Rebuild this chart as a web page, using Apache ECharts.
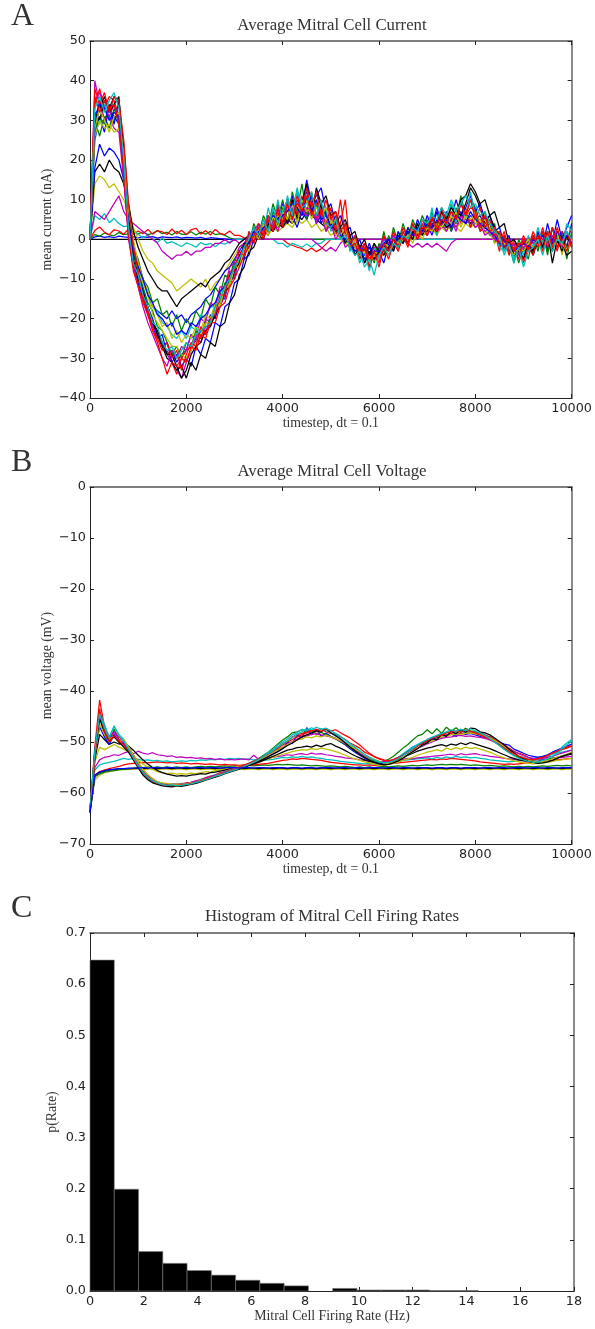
<!DOCTYPE html>
<html><head><meta charset="utf-8">
<script src="https://cdn.jsdelivr.net/npm/echarts@6/dist/echarts.min.js"></script>
<style>html,body{margin:0;padding:0;background:#fff}#c{width:595px;height:1329px}</style>
</head><body><div id="c"></div>
<script>
// ---------- shared time grid (timestep) ----------
const T = [0,100,200,300,400,500,600,700,800,900,
1000,1100,1200,1300,1400,1500,1600,1700,1800,1900,
2000,2100,2200,2300,2400,2500,2600,2700,2800,2900,
3000,3100,3200,3300,3400,3500,3600,3700,3800,3900,
4000,4100,4200,4300,4400,4500,4600,4700,4800,4900,
5000,5100,5200,5300,5400,5500,5600,5700,5800,5900,
6000,6100,6200,6300,6400,6500,6600,6700,6800,6900,
7000,7100,7200,7300,7400,7500,7600,7700,7800,7900,
8000,8100,8200,8300,8400,8500,8600,8700,8800,8900,
9000,9100,9200,9300,9400,9500,9600,9700,9800,9900,
10000];

// ---------- Panel A: mean current (nA) ----------
const A_kw = [0,0,0,0,0,0,0,0,0,0, 0,0,0,0,0,0,0,0,0,0, 0,0,0,0,0,0,0,0,0,0, 0,0,0,0,0,0,0,0,0,0, 0,0,0,0,0,0,0,0,0,0,
0,0,0,0,0,0,0,0,0,0, 0,0,0,0,0,0,0,0,0,0, 0,0,0,0,0,0,0,0,0,0, 0,0,0,0,0,0,0,0,0,0, 0,0,0,0,0,0,0,0,0,0, 0];
const A_bw = [0,0.6,0.8,0.5,0.7,0.4,0.8,0.6,0.5,0.7,
0.4,0.6,0.5,0.7,0.3,0.6,0.5,0.4,0.6,0.3,
0.5,0.4,0.3,0.5,0.2,0.4,0.3,0.2,0.1,0,
0,0,0,0,0,0,0,0,0,0, 0,0,0,0,0,0,0,0,0,0, 0,0,0,0,0,0,0,0,0,0, 0,0,0,0,0,0,0,0,0,0,
0,0,0,0,0,0,0,0,0,0, 0,0,0,0,0,0,0,0,0,0, 0,0,0,0,0,0,0,0,0,0, 0];
const A_gw = [0,1.2,0.8,1.6,1.1,0.9,1.7,1.2,1.4,2.1,
1.3,1.9,1.2,1.5,2.2,1.4,1.8,1.1,2,1.3,
1.2,1.9,1.1,1.8,1.3,2,1.2,1.4,1,0.4,
0,0,0,0,0,0,0,0,0,0, 0,0,0,0,0,0,0,0,0,0, 0,0,0,0,0,0,0,0,0,0, 0,0,0,0,0,0,0,0,0,0,
0,0,0,0,0,0,0,0,0,0, 0,0,0,0,0,0,0,0,0,0, 0,0,0,0,0,0,0,0,0,0, 0];
const A_rw = [0,2.2,3.1,1.8,1.2,2.4,2.1,1.3,2.6,1.2,
2.1,1.4,2.5,1.3,2.2,1.9,1.2,2.6,1.4,2.3,
1.2,2.4,2.8,1.3,2.2,1.1,2.5,1.5,1.2,2.1,
1,1,0.4,0,0,0,0,0,0,0,
0,-1,-1.5,-2,-2.3,-3,-2.2,-3.1,-2.4,-1.2,
0,0,0,0,0,0,0,0,0,0, 0,0,0,0,0,0,0,0,0,0, 0,0,0,0,0,0,0,0,0,0, 0,0,0,0,0,0,0,0,0,0, 0,0,0,0,0,0,0,0,0,0, 0];
const A_cw = [0,6,5,6.5,4.2,5.3,4,3.2,3.4,2.3,
1.2,0.4,1,0.2,-0.8,0.3,-1,-0.6,-1.2,-1.8,
-0.9,-1.3,-2,-0.8,-1.4,-1,-1.9,-0.9,-1.2,-0.6,
0,0,0,0,0,0,0,0,0,-1,
-1,-2,-1,-1.5,-2,-1.2,-2,-1,-1,0,
0,0,0,0,0,0,0,0,0,0, 0,0,0,0,0,0,0,0,0,0, 0,0,0,0,0,0,0,0,0,0, 0,0,0,0,0,0,0,0,0,0, 0,0,0,0,0,0,0,0,0,0, 0];
const A_mm = [0,7,6,5,7,9,11,7,5,4,
3,2,1,0,-1,-3,-4,-5,-4,-4,
-3,-4,-3,-3,-2,-2,-1,-1,0,-1,
0,-1,0,0,0,0,0,0,0,0,
0,0,0,0,0,0,0,-1,-2,-3,
-2,-3,-1,0,0,0,0,0,0,0,
0,0,0,0,0,0,-1,-2,-1,-2,
-1,-2,-1,-2,-3,-1,0,0,0,0,
0,0,0,0,0,0,0,0,0,0, 0,0,0,0,0,0,0,0,0,0, 0];
const A_ym = [0,14,16,15,13,14,12,10,7,3,
0,-3,-5,-6,-8,-9,-10,-11,-13,-12,
-11,-10,-11,-12,-10,-13,-11,-10,-8,-6,
-4,-2,-1,0,1,0,2,1,3,2,
3,4,3,5,4,5,3,4,2,3,
1,2,0,-1,-2,-1,-3,-2,-4,-3,
-2,-3,-1,0,-1,1,0,1,2,1,
2,3,1,3,2,4,3,2,4,3,
4,3,2,1,0,-1,-2,-3,-2,-1,
-2,-1,0,-1,0,1,-1,0,1,0,
0];
const A_km = [0,17,19,17,20,18,17,14,9,2,
-2,-5,-8,-10,-12,-13,-13,-15,-17,-15,
-14,-13,-12,-11,-12,-10,-9,-8,-6,-5,
-3,-1,0,1,0,2,1,3,2,4,
3,5,4,6,5,7,6,5,4,3,
3,2,1,0,-1,-2,-2,-3,-2,-3,
-2,-1,-1,0,0,1,0,2,1,2,
3,2,4,3,4,5,4,6,5,4,
6,4,3,2,1,0,-1,-2,-1,-2,
-1,0,-1,0,1,0,-1,0,1,0,
0];
const A_bm = [0,18,24,21,23,22,20,15,6,-2,
-6,-10,-14,-17,-18,-19,-20,-18,-20,-19,
-21,-19,-18,-17,-15,-14,-12,-10,-8,-7,
-5,-3,-1,0,1,2,3,2,4,3,
5,4,6,3,7,5,8,4,6,3,
4,2,1,0,-1,-2,-3,-2,-4,-3,
-2,-1,-2,0,-1,1,0,2,1,3,
2,4,3,5,4,3,5,4,6,5,
4,5,3,2,1,0,-2,-1,-3,-2,
-1,-2,0,-1,1,-2,0,1,-1,0,
1];
const A_b1 = [0,29,35,30,33,31,29,16,1,-7,
-11,-15,-19,-22,-25,-24,-29,-28,-31,-29,
-28,-24,-26,-23,-24,-19,-20,-15,-15,-9,
-10,-4,-5,0,0,3,4,3,7,5,
9,7,11,6,9,12,8,9,4,7,
3,5,1,2,-1,0,-2,-4,-2,-5,
-2,-3,0,-2,1,-1,2,0,3,3,
4,1,5,3,6,2,5,7,4,6,
5,6,3,5,3,-1,0,-3,-1,-4,
0,-2,1,-1,2,-3,3,-1,2,-2,
4];
const A_g1 = [0,27,31,29,34,30,32,19,4,-4,
-7,-12,-16,-18,-22,-23,-26,-29,-27,-30,
-26,-27,-23,-25,-20,-21,-16,-16,-11,-11,
-6,-6,-1,-1,3,1,5,2,7,4,
8,5,9,6,10,5,11,6,7,4,
5,1,3,-1,0,-3,-2,-5,-3,-6,
-1,-4,1,-2,2,-1,3,0,4,1,
5,2,7,3,6,2,8,4,7,3,
6,2,3,4,-1,2,-3,-1,-6,0,
-3,0,-4,2,-1,1,-2,0,1,-2,
-1];
const A_g2 = [0,30,26,31,28,33,29,20,6,-2,
-5,-10,-12,-16,-15,-19,-18,-22,-19,-23,
-20,-22,-18,-20,-15,-17,-12,-14,-9,-10,
-5,-6,-1,-2,4,1,6,3,9,5,
10,4,12,7,14,6,11,9,5,8,
3,6,0,4,-3,1,-5,-2,-7,-1,
-4,2,-3,3,-1,4,0,5,2,6,
3,7,2,8,4,9,5,11,6,10,
8,4,7,2,4,-2,1,-4,-1,-6,
-2,-5,1,-3,2,-4,3,-2,1,-5,
2];
const A_r1 = [0,34,38,33,36,35,31,21,2,-6,
-10,-14,-18,-21,-24,-27,-28,-31,-34,-30,
-28,-27,-24,-25,-21,-21,-17,-16,-12,-11,
-7,-6,-2,1,-1,3,2,6,4,9,
5,8,10,6,11,7,12,5,9,3,
6,1,4,10,-2,0,-5,-1,-6,-2,
-4,1,-3,2,-2,3,0,4,1,5,
2,6,1,7,3,5,6,4,8,3,
7,2,5,1,2,-3,1,-4,0,-3,
1,-2,2,-1,3,-2,1,-3,2,0,
3];
const A_b3 = [0,25,31,27,34,29,35,23,7,-1,
-8,-13,-17,-20,-24,-27,-26,-31,-29,-32,
-30,-32,-27,-29,-25,-26,-21,-22,-17,-16,
-11,-10,-5,-4,0,2,1,5,3,8,
6,10,7,12,8,15,9,11,13,7,
9,4,6,2,3,-2,0,-4,-1,-5,
-3,-6,-1,-3,2,-1,3,1,5,2,
6,3,8,4,7,5,10,6,8,11,
7,9,5,6,2,3,-1,1,-4,-2,
-5,0,-3,2,-2,4,-1,5,0,3,
6];
const A_c1 = [0,31,29,34,30,36,35,22,5,-3,
-7,-11,-13,-17,-18,-21,-22,-24,-25,-23,
-25,-22,-23,-19,-20,-17,-17,-13,-13,-9,
-9,-4,-4,2,0,4,1,8,3,10,
4,11,6,12,9,13,7,10,5,8,
2,4,0,3,-3,-1,-6,-3,-8,-2,
-5,0,-2,1,-3,2,0,3,1,4,
2,8,1,6,3,9,4,10,5,12,
6,3,5,1,2,-2,-3,0,-5,-1,
-4,1,-2,3,-1,2,-3,1,-2,4,
2];
const A_m1 = [0,40,34,30,31,28,27,15,2,-6,
-9,-14,-18,-22,-24,-27,-29,-31,-33,-35,
-31,-28,-25,-26,-22,-22,-18,-17,-14,-11,
-9,-4,-3,-2,1,0,3,1,5,2,
6,4,8,5,7,6,9,4,8,2,
5,3,1,2,-1,0,-3,-1,-4,-2,
-2,0,-1,1,-1,1,0,2,0,3,
1,4,2,3,3,5,2,6,4,5,
3,4,2,3,0,1,-2,0,-3,-1,
-2,0,-1,1,0,-1,1,0,-1,1,
0];
const A_k2 = [0,32,30,35,33,36,34,24,8,-3,
-9,-14,-17,-21,-24,-27,-30,-31,-33,-32,
-35,-31,-33,-29,-30,-26,-27,-22,-21,-16,
-14,-9,-7,-3,-2,1,0,4,2,6,
3,8,5,9,7,10,6,13,9,11,
6,7,3,5,1,2,-2,0,-4,-1,
-3,-2,0,-3,1,-1,2,0,4,1,
3,5,4,7,5,8,6,10,11,14,
12,9,10,6,7,3,4,-1,0,-2,
-3,-1,-4,0,-2,1,-3,2,-1,-4,
-3];
const A_y1 = [0,26,30,28,29,27,28,22,8,-2,
-8,-11,-14,-19,-21,-23,-25,-27,-27,-29,
-30,-28,-26,-24,-21,-21,-18,-16,-13,-11,
-8,-5,-4,1,0,3,2,5,3,6,
5,8,4,9,6,10,5,8,6,3,
5,1,2,-1,0,-2,-4,-3,-6,-4,
-3,-1,-2,0,-1,1,0,2,1,3,
2,4,3,5,2,6,3,4,6,7,
4,5,1,3,-1,0,-2,-3,-1,-4,
-2,0,-3,1,-2,0,-1,2,-4,1,
-1];
const A_m2 = [0,35,37,33,31,34,30,16,0,-7,
-12,-17,-21,-24,-27,-30,-32,-28,-30,-27,
-28,-24,-25,-20,-21,-16,-17,-12,-12,-7,
-6,-2,-1,1,2,4,2,6,3,8,
4,9,5,10,6,8,7,5,6,2,
4,0,2,-2,-1,-4,-2,-6,-3,-5,
-4,-1,-3,0,-2,1,-1,2,0,2,
1,3,2,4,2,5,3,6,4,5,
3,4,1,2,0,-1,-2,-3,-1,-4,
-2,-1,-3,0,-2,1,-1,0,-2,1,
-1];
const A_k1 = [0,28,33,36,32,34,36,20,6,-5,
-10,-13,-18,-21,-23,-26,-29,-29,-32,-35,
-33,-29,-27,-26,-23,-22,-19,-17,-13,-12,
-8,-6,-1,-1,2,0,4,2,6,3,
7,4,10,5,9,14,7,12,8,6,
4,2,3,-1,1,-4,-2,-6,-3,-5,
-3,-4,-2,0,-2,1,-1,2,1,3,
2,4,2,5,3,4,7,6,9,13,
11,8,4,6,3,1,-2,0,-4,-3,
-5,-1,-3,1,-2,2,-6,0,-3,1,
-2];
const A_y2 = [0,28,33,30,27,31,32,21,7,0,
-6,-10,-13,-17,-19,-22,-21,-25,-23,-26,
-24,-25,-22,-23,-19,-20,-16,-17,-12,-12,
-7,-7,-2,-3,2,0,4,1,6,3,
7,5,9,4,10,7,8,9,6,8,
4,5,1,3,-2,0,-4,-3,-6,-4,
-5,-2,-4,-1,-2,0,1,-1,2,0,
3,2,4,3,5,4,7,3,6,5,
7,4,5,2,3,0,-1,-2,-4,-2,
-3,-1,-2,0,-3,1,-2,0,-1,-3,
0];
const A_b2 = [0,31,34,33,30,32,31,19,4,-3,
-7,-10,-14,-16,-19,-20,-22,-21,-24,-23,
-24,-21,-22,-20,-19,-17,-16,-13,-12,-9,
-7,-4,-2,-1,2,1,3,4,6,5,
6,7,9,8,6,11,7,10,5,6,
3,4,1,0,-1,-3,-2,-5,-4,-3,
-3,-1,0,-2,1,0,2,1,3,2,
4,3,7,4,5,3,6,5,4,7,
5,4,3,2,1,-1,-2,-1,-3,-2,
-1,-2,0,-1,1,0,-1,2,0,1,
-1];
const A_r2 = [0,36,32,35,33,34,29,17,1,-8,
-12,-16,-19,-23,-25,-28,-26,-30,-28,-33,
-29,-26,-27,-22,-24,-20,-19,-14,-14,-8,
-8,-3,-4,2,-1,4,1,6,2,8,
4,10,5,9,8,11,6,9,7,4,
8,2,10,1,-2,-1,-4,-2,-7,-3,
-6,-1,-3,0,-2,2,-1,4,0,3,
3,6,2,5,4,7,5,9,6,8,
7,3,6,2,3,-1,2,-3,-2,-5,
0,-3,1,-2,2,-1,3,-2,0,-3,
1];
const A_r3 = [0,38,34,37,32,36,35,25,9,-2,
-8,-15,-18,-23,-26,-30,-34,-31,-32,-30,
-31,-27,-28,-24,-25,-21,-21,-17,-16,-12,
-10,-7,-4,-2,1,3,0,5,2,7,
3,9,6,11,7,13,8,12,6,10,
5,7,2,4,-1,1,-3,-1,-5,-3,
-7,-2,-5,-1,-3,1,-2,3,0,4,
1,5,3,8,4,7,5,9,6,10,
5,8,3,5,1,2,-2,0,-3,-1,
-6,-2,-4,1,-3,2,-2,3,-1,2,
-2];
const A_c2 = [0,33,36,32,35,37,33,20,3,-6,
-9,-14,-17,-21,-22,-26,-28,-27,-30,-28,
-26,-27,-24,-23,-22,-21,-17,-15,-12,-10,
-7,-5,-2,0,3,1,5,2,8,4,
7,10,6,13,8,9,12,6,10,4,
3,5,0,1,-2,-4,-3,-7,-5,-9,
-4,-2,-4,-1,-2,1,0,3,2,5,
4,6,5,8,6,10,7,9,11,8,
9,6,7,4,2,1,-4,-1,-6,-2,
-7,-3,-2,0,-4,1,-3,0,-1,2,
0];

// ---------- Panel B: mean voltage (mV) ----------
const B_yw = [-63.5,-57.5,-56.5,-56,-55.8,-55.6,-55.5,-55.4,-55.4,-55.3,
-55.3,-55.4,-55.3,-55.3,-55.4,-55.3,-55.3,-55.4,-55.3,-55.3,
-55.4,-55.3,-55.3,-55.4,-55.3,-55.3,-55.4,-55.3,-55.3,-55.4,
-55.3,-55.3,-55.4,-55.3,-55.3,-55.4,-55.3,-55.3,-55.4,-55.3,
-55.3,-55.4,-55.3,-55.3,-55.4,-55.3,-55.3,-55.4,-55.3,-55.3,
-55.4,-55.3,-55.3,-55.4,-55.3,-55.3,-55.4,-55.3,-55.3,-55.4,
-55.3,-55.3,-55.4,-55.3,-55.3,-55.4,-55.3,-55.3,-55.4,-55.3,
-55.3,-55.4,-55.3,-55.3,-55.4,-55.3,-55.3,-55.4,-55.3,-55.3,
-55.4,-55.3,-55.3,-55.4,-55.3,-55.3,-55.4,-55.3,-55.3,-55.4,
-55.3,-55.3,-55.4,-55.3,-55.3,-55.4,-55.3,-55.3,-55.4,-55.3,
-55.3];
const B_kw = [-63.9,-56.8,-56,-55.7,-55.5,-55.4,-55.3,-55.3,-55.2,-55.2,
-55.1,-55.2,-55.1,-55.1,-55.2,-55.1,-55.1,-55.2,-55.1,-55.1,
-55.2,-55.1,-55.1,-55.2,-55.1,-55.1,-55.2,-55.1,-55.1,-55.2,
-55.1,-55.1,-55.2,-55.1,-55.1,-55.2,-55.1,-55.1,-55.2,-55.1,
-55.1,-55.2,-55.1,-55.1,-55.2,-55.1,-55.1,-55.2,-55.1,-55.1,
-55.2,-55.1,-55.1,-55.2,-55.1,-55.1,-55.2,-55.1,-55.1,-55.2,
-55.1,-55.1,-55.2,-55.1,-55.1,-55.2,-55.1,-55.1,-55.2,-55.1,
-55.1,-55.2,-55.1,-55.1,-55.2,-55.1,-55.1,-55.2,-55.1,-55.1,
-55.2,-55.1,-55.1,-55.2,-55.1,-55.1,-55.2,-55.1,-55.1,-55.2,
-55.1,-55.1,-55.2,-55.1,-55.1,-55.2,-55.1,-55.1,-55.2,-55.1,
-55.1];
const B_bw = [-63.8,-56.5,-55.9,-55.6,-55.4,-55.3,-55.2,-55.2,-55.1,-55.1,
-55.1,-55,-55.1,-55,-55,-55.1,-55,-55,-55.1,-55,
-55,-55.1,-55,-55,-55.1,-55,-55,-55.1,-55,-55,
-55,-55.1,-55,-55,-55.1,-55,-55,-55.1,-55,-55,
-55,-55.1,-55,-55,-55.1,-55,-55,-55.1,-55,-55,
-55,-55.1,-55,-55,-55.1,-55,-55,-55.1,-55,-55,
-55,-55.1,-55,-55,-55.1,-55,-55,-55.1,-55,-55,
-55,-55.1,-55,-55,-55.1,-55,-55,-55.1,-55,-55,
-55,-55.1,-55,-55,-55.1,-55,-55,-55.1,-55,-55,
-55,-55.1,-55,-55,-55.1,-55,-55,-55.1,-55,-55,
-55];
const B_gw = [-63.5,-56.8,-56.2,-55.9,-55.7,-55.6,-55.4,-55.3,-55.2,-55.1,
-55,-55,-54.9,-55,-54.9,-55,-54.9,-55,-54.9,-55,
-54.9,-55,-54.9,-54.8,-54.9,-54.8,-54.9,-54.8,-54.7,-54.8,
-54.7,-54.8,-54.7,-54.6,-54.7,-54.6,-54.5,-54.6,-54.5,-54.4,
-54.5,-54.4,-54.5,-54.6,-54.5,-54.6,-54.7,-54.6,-54.7,-54.8,
-54.7,-54.8,-54.9,-54.8,-54.9,-55,-54.9,-55,-54.9,-55,
-54.9,-54.8,-54.9,-54.8,-54.7,-54.8,-54.7,-54.6,-54.7,-54.6,
-54.5,-54.6,-54.5,-54.4,-54.5,-54.4,-54.5,-54.4,-54.5,-54.6,
-54.5,-54.6,-54.7,-54.6,-54.7,-54.8,-54.7,-54.8,-54.9,-54.8,
-54.9,-54.8,-54.9,-54.8,-54.7,-54.8,-54.7,-54.6,-54.7,-54.6,
-54.7];
const B_rw = [-63.6,-56.5,-55.8,-55.5,-55.2,-55,-54.8,-54.5,-54.3,-54.2,
-54.1,-54,-54.1,-54,-53.9,-54,-54.1,-54,-54.2,-54.1,
-54.2,-54.3,-54.2,-54.3,-54.4,-54.3,-54.4,-54.5,-54.4,-54.5,
-54.5,-54.6,-54.5,-54.6,-54.5,-54.4,-54.3,-54.2,-54,-53.8,
-53.6,-53.5,-53.3,-53.4,-53.2,-53.3,-53.4,-53.5,-53.6,-53.8,
-54,-54.1,-54.2,-54.3,-54.4,-54.5,-54.5,-54.6,-54.5,-54.6,
-54.5,-54.4,-54.3,-54.2,-54.1,-54,-53.9,-53.8,-53.7,-53.6,
-53.5,-53.4,-53.5,-53.3,-53.4,-53.2,-53.3,-53.4,-53.5,-53.6,
-53.7,-53.9,-54,-54.1,-54.2,-54.3,-54.4,-54.3,-54.4,-54.3,
-54.2,-54.1,-54,-53.9,-53.8,-53.7,-53.6,-53.5,-53.4,-53.3,
-53.2];
const B_cm = [-63.5,-55.5,-54.5,-54.2,-54,-53.8,-53.5,-53.2,-53.4,-53.2,
-53.4,-53.6,-53.5,-53.7,-53.6,-53.8,-53.7,-53.9,-53.8,-53.7,
-53.8,-53.6,-53.7,-53.5,-53.6,-53.4,-53.5,-53.3,-53.4,-53.2,
-53.3,-53.2,-53.4,-53.3,-53.5,-53.4,-53.6,-53.5,-53.4,-53.2,
-53,-53.1,-52.9,-53,-52.8,-53,-52.9,-53.1,-53.2,-53.4,
-53.5,-53.6,-53.8,-53.9,-54,-54.1,-54.2,-54.3,-54.2,-54.3,
-54.2,-54.1,-54,-53.9,-53.8,-53.6,-53.5,-53.4,-53.3,-53.2,
-53.1,-53.3,-53,-53.2,-52.9,-53.1,-52.8,-53,-52.9,-53.1,
-53,-53.2,-53.3,-53.5,-53.6,-53.7,-53.8,-53.9,-53.8,-53.7,
-53.6,-53.4,-53.2,-53,-52.8,-52.6,-52.4,-52.2,-52,-51.8,
-51.6];
const B_mm = [-63.4,-55,-53.5,-53,-52.8,-52.5,-52.6,-52.2,-51.9,-52.3,
-51.8,-52.2,-52.4,-52.1,-52.5,-52.6,-52.8,-52.7,-53,-52.9,
-53.1,-53,-53.2,-53.1,-53.3,-53.2,-53.4,-53.3,-53.5,-53.4,
-53.5,-53.4,-53.3,-53.5,-52.6,-53.4,-53.2,-53.1,-53,-52.8,
-52.7,-52.5,-52.6,-52.4,-52.3,-52.5,-52.2,-52.4,-52.3,-52.5,
-52.6,-52.8,-52.9,-53.1,-53.2,-53.3,-53.5,-53.6,-53.7,-53.8,
-53.9,-54,-53.9,-53.8,-53.6,-53.4,-53.2,-53.3,-53.1,-53,
-52.9,-52.8,-52.7,-52.6,-52.5,-52.4,-52.6,-52.3,-52.5,-52.4,
-52.3,-52.5,-52.6,-52.8,-52.9,-53,-53.2,-53.3,-53.4,-53.5,
-53.6,-53.7,-53.6,-53.5,-53.4,-53.3,-53.2,-53.1,-53,-52.9,
-52.8];
const B_ym = [-63.4,-54,-51,-51.5,-51,-50.5,-51,-51.4,-52,-52.8,
-53.6,-54.3,-54.9,-55.4,-55.8,-56,-56.2,-56.1,-56.3,-56.2,
-56.3,-56.1,-56.2,-56,-55.8,-55.9,-55.6,-55.5,-55.3,-55.1,
-55,-54.8,-54.6,-54.5,-54.2,-53.9,-53.6,-53.3,-53,-52.7,
-52.4,-52.2,-51.9,-51.7,-51.5,-51.6,-51.3,-51.5,-51.2,-51.4,
-51.6,-51.9,-52.2,-52.6,-53,-53.3,-53.6,-53.9,-54.1,-54.3,
-54.5,-54.6,-54.4,-54.2,-53.9,-53.6,-53.3,-53,-52.6,-52.3,
-52,-51.8,-51.5,-51.8,-51.2,-51.5,-51.1,-51.4,-51,-51.3,
-51.1,-51.4,-51.7,-52,-52.4,-52.8,-53.1,-53.4,-53.7,-53.9,
-54.1,-54.2,-54.3,-54.2,-54.1,-54,-53.8,-53.6,-53.5,-53.3,
-53.2];
const B_km = [-63.6,-53.5,-48.5,-49.5,-50.5,-50,-50.4,-50.2,-50.8,-51.6,
-52.6,-53.5,-54.3,-55,-55.6,-56,-56.3,-56.5,-56.7,-56.6,
-56.7,-56.5,-56.4,-56.2,-56.3,-56,-55.9,-55.7,-55.5,-55.3,
-55.2,-55,-54.8,-54.6,-54.3,-54,-53.6,-53.2,-52.8,-52.4,
-52,-51.6,-51.4,-51.1,-51,-50.8,-51,-50.6,-50.9,-50.5,
-50.3,-50.8,-51.2,-51.7,-52.2,-52.7,-53.1,-53.5,-53.8,-54,
-54.1,-54.2,-54,-53.8,-53.4,-53,-52.6,-52.2,-51.8,-51.5,
-51.2,-51,-50.7,-50.5,-50.8,-50.4,-50.6,-50.2,-50.5,-50.1,
-50.4,-50.7,-51,-51.3,-51.7,-52.1,-52.5,-52.9,-53.2,-53.5,
-53.7,-53.8,-53.9,-53.8,-53.6,-53.4,-53.2,-53,-52.8,-52.6,
-52.4];
const B_b1 = [-63,-52.5,-47,-49,-50.5,-48.5,-50,-50.5,-51.8,-53.4,
-55,-56.3,-57.2,-57.8,-58.1,-58.2,-58.4,-58.3,-58.2,-58.4,
-58.1,-58,-57.7,-57.6,-57.2,-57,-56.6,-56.4,-56,-55.8,
-55.4,-55.2,-54.9,-54.5,-54.1,-53.7,-53.3,-52.8,-52.3,-51.8,
-51.2,-50.1,-50.3,-48.6,-49.2,-47.2,-48.6,-47.5,-48.9,-48.3,
-48.9,-49.3,-49.9,-50.6,-51.3,-52,-52.6,-53.2,-53.6,-53.9,
-54.2,-54.3,-54,-53.7,-53.2,-52.5,-51.8,-51,-50.6,-50.4,
-50,-49.6,-49.2,-49,-48.6,-48.4,-48.9,-48.2,-48.5,-48.3,
-48.6,-48.9,-49.2,-49,-49.6,-50,-50.4,-50.6,-51.4,-51.8,
-52.2,-52.6,-52.8,-53,-52.8,-52.5,-52,-51.6,-51.2,-50.8,
-50.4];
const B_g1 = [-63.5,-53,-45,-48.5,-50,-47.5,-49.5,-50,-51.2,-52.8,
-54.4,-55.6,-56.7,-57.4,-57.9,-58.1,-58.4,-58.6,-58.7,-58.5,
-58.4,-58.2,-58,-57.7,-57.4,-57.1,-56.8,-56.4,-56.1,-55.7,
-55.5,-55.2,-54.8,-54.3,-53.8,-53.3,-52.6,-52,-51.2,-50.4,
-49.6,-49,-48.2,-48,-47.6,-48,-47.8,-48.4,-48.1,-48.6,
-49,-49.4,-50,-50.5,-51.1,-51.8,-52.4,-53,-53.4,-53.7,
-54,-53.8,-53.4,-52.8,-52,-51.2,-50.5,-49.6,-48.8,-48.5,
-47.6,-48.4,-47.4,-48.3,-47.1,-47.9,-47.2,-48,-47.3,-47.8,
-48,-48.3,-48.7,-49.3,-50,-50.7,-51.4,-52,-52.6,-53,
-53.4,-53.6,-53.8,-53.9,-53.7,-53.5,-53.2,-53,-52.7,-52.4,
-52.2];
const B_r1 = [-63.5,-51,-41.8,-47,-49.5,-48,-49,-50,-51,-52.5,
-54,-55.5,-56.5,-57.2,-58,-58.4,-58.6,-58.3,-58.5,-58.2,
-58,-57.9,-57.6,-57.4,-57,-56.7,-56.5,-56,-55.8,-55.4,
-55.2,-54.9,-54.5,-54.2,-53.8,-53.2,-52.8,-52.2,-51.6,-51,
-50.3,-49.8,-49,-48.6,-48.3,-48,-47.6,-48,-47.5,-48,
-48.3,-48.5,-49,-49.5,-50.2,-50.7,-51.2,-52,-52.4,-52.9,
-53.2,-53.5,-53.7,-53.4,-53,-52.6,-52,-51.3,-50.8,-50.2,
-49.8,-49.2,-48.9,-48.5,-48.7,-48.3,-48.1,-48.5,-48,-48.2,
-48.4,-48.1,-48.6,-49,-49.5,-50.1,-50.6,-51.2,-51.8,-52.2,
-52.5,-53,-53.3,-53.2,-53,-52.8,-52.2,-52,-51.5,-51.2,
-50.8];
const B_c1 = [-63.8,-52,-44,-46.5,-49,-47,-48.5,-49.5,-51,-53,
-55,-56.2,-57.3,-57.8,-58.2,-58.3,-58.2,-58.5,-58.3,-58.1,
-58.2,-57.9,-57.7,-57.3,-57.1,-56.8,-56.4,-56.2,-55.8,-55.5,
-55.2,-55,-54.6,-54.2,-53.7,-53.3,-52.8,-52,-51.5,-50.6,
-50,-49.4,-48.6,-48.2,-47.5,-47.8,-47.2,-47.6,-47.4,-47.8,
-48.2,-48.6,-49.3,-50,-50.6,-51.2,-51.8,-52.5,-53,-53.4,
-53.8,-54,-53.9,-53.6,-53,-52.3,-51.6,-51,-50.5,-50,
-49.6,-49.1,-48.8,-48.4,-48.2,-47.9,-48.3,-47.8,-48.1,-47.9,
-48.2,-48.5,-48.8,-49.2,-49.8,-50.4,-51,-51.6,-52.2,-52.7,
-53,-53.3,-53.6,-53.4,-53.2,-52.9,-52.4,-52,-51,-50.2,
-49.5];
const B_m1 = [-63.5,-51.5,-45,-47.5,-49,-48,-49.5,-50.2,-51.3,-52.7,
-54.2,-55.5,-56.6,-57.3,-57.8,-58.1,-58.2,-58.3,-58.3,-58.2,
-58.1,-57.9,-57.6,-57.4,-57.1,-56.8,-56.5,-56.2,-55.9,-55.6,
-55.3,-55,-54.7,-54.3,-53.9,-53.5,-53.1,-52.6,-52,-51.5,
-51,-50.4,-49.9,-49.4,-49,-48.8,-48.5,-48.4,-48.6,-48.8,
-49,-49.4,-49.8,-50.4,-50.9,-51.5,-52.1,-52.7,-53.1,-53.5,
-53.8,-53.9,-53.8,-53.5,-53.1,-52.6,-52.1,-51.6,-51.2,-50.8,
-50.4,-50,-49.6,-49.3,-49.1,-49,-48.8,-48.7,-48.9,-48.8,
-49,-49.1,-49.3,-49.6,-50,-50.4,-50.9,-51.4,-51.9,-52.3,
-52.7,-53,-53.2,-53.3,-53.2,-53,-52.8,-52.5,-52.2,-51.9,
-51.6];
const B_y1 = [-63.2,-52.5,-46.5,-48.5,-49.5,-49,-50,-49.5,-51,-52.5,
-54,-55.4,-56.4,-57.2,-57.8,-58,-58.1,-58.3,-58.2,-58.3,
-58.2,-58,-57.9,-57.5,-57.3,-57,-56.7,-56.3,-56.1,-55.7,
-55.4,-55.1,-54.7,-54.4,-54,-53.6,-53.1,-52.6,-52,-51.6,
-51,-50.5,-50,-49.6,-49.4,-49,-49.2,-48.8,-49,-48.7,
-49,-49.3,-49.7,-50.2,-50.8,-51.3,-51.9,-52.5,-53,-53.4,
-53.8,-54.1,-54.2,-54,-53.6,-53,-52.4,-51.8,-51.2,-50.6,
-50.2,-49.8,-49.4,-49,-48.8,-48.6,-48.4,-48.5,-48.3,-48.2,
-48.4,-48.6,-49,-49.2,-49.7,-50.2,-50.9,-51.6,-52.2,-52.8,
-53.2,-53.6,-53.8,-53.9,-53.8,-53.6,-53.3,-53,-52.7,-52.4,
-52];
const B_k1 = [-63.8,-52,-45.5,-48,-49.8,-49,-50,-51,-52,-53.5,
-55,-56.5,-57.4,-58,-58.3,-58.6,-58.7,-58.8,-58.6,-58.7,
-58.5,-58.3,-58.1,-57.8,-57.5,-57.2,-56.9,-56.6,-56.2,-55.9,
-55.6,-55.3,-55,-54.6,-54.2,-53.8,-53.4,-52.9,-52.4,-51.9,
-51.3,-50.7,-50.2,-49.6,-49,-48.6,-48.2,-47.8,-48,-47.4,
-48.2,-48.8,-49.4,-50.2,-51,-51.7,-52.4,-53,-53.6,-54,
-54.3,-54.5,-54.4,-54.1,-53.7,-53.2,-52.5,-51.9,-51.3,-50.6,
-50.2,-49.3,-49.6,-48.5,-48.9,-47.9,-48.4,-47.5,-48.1,-47.3,
-47.4,-48,-48.2,-48.6,-49.2,-49.9,-50.6,-51.4,-52.1,-52.8,
-53.3,-53.8,-54,-54.2,-54.1,-53.9,-53.6,-53.2,-52.8,-52.5,
-52.2];
const B_r2 = [-63.6,-52.8,-43.5,-48,-50,-48.8,-49.8,-50.6,-51.6,-53.2,
-54.8,-56,-57,-57.7,-58.1,-58.3,-58.4,-58.5,-58.6,-58.4,
-58.3,-58.1,-57.9,-57.6,-57.3,-57,-56.7,-56.4,-56,-55.7,
-55.4,-55,-54.6,-54.2,-53.8,-53.4,-52.9,-52.4,-51.8,-51.2,
-50.6,-50,-49.5,-49,-48.6,-48.2,-47.8,-47.5,-47.9,-47.4,
-47.8,-47.6,-48.2,-48.7,-49.2,-49.9,-50.6,-51.4,-52.2,-52.8,
-53.3,-53.6,-53.7,-53.5,-53.1,-52.6,-52,-51.4,-50.8,-50.2,
-49.7,-49.3,-48.9,-48.6,-48.2,-48,-47.8,-48.1,-47.6,-47.9,
-48.2,-48.6,-49,-49.5,-50,-50.6,-51.2,-51.8,-52.3,-52.8,
-53.1,-53.4,-53.5,-53.3,-53,-52.6,-52.2,-51.8,-51.4,-51,
-50.7];
const B_c2 = [-63.4,-51.8,-44.5,-47.2,-49.2,-46.8,-48.8,-49.8,-51.4,-53.1,
-54.6,-55.9,-56.9,-57.6,-58,-58.3,-58.5,-58.4,-58.6,-58.5,
-58.3,-58.2,-57.9,-57.7,-57.4,-57.1,-56.7,-56.5,-56.1,-55.8,
-55.5,-55.2,-54.8,-54.4,-54,-53.5,-52.9,-52.3,-51.7,-51,
-50.4,-49.8,-49.1,-48.5,-48,-47.4,-47.6,-47.1,-47.5,-47.3,
-47.8,-48.3,-48.9,-49.6,-50.3,-51,-51.7,-52.4,-53,-53.5,
-53.9,-54.1,-54,-53.7,-53.3,-52.7,-52,-51.3,-50.6,-50,
-49.5,-49.1,-48.7,-48.3,-48,-47.6,-47.9,-47.5,-47.8,-47.4,
-47.8,-48.2,-48.7,-49.3,-50,-50.7,-51.4,-52.1,-52.7,-53.2,
-53.5,-53.8,-54,-53.9,-53.6,-53.3,-52.8,-52.2,-51.4,-50.6,
-49.8];

// ---------- Panel C: histogram of firing rates ----------
const C_edges = [0,0.9025,1.805,2.7075,3.61,4.5125,5.415,6.3175,7.22,8.1225,9.025,
9.9275,10.83,11.7325,12.635,13.5375,14.44,15.3425,16.245,17.1475,18.05];
const C_prob = [0.647,0.199,0.077,0.054,0.040,0.031,0.021,0.015,0.010,0,
0.005,0.002,0.002,0.002,0.001,0.001,0,0,0,0];

// ---------- colours (matplotlib classic) ----------
const Cb='#0000ff', Cg='#008000', Cr='#ff0000', Cc='#00bfbf', Cm='#bf00bf', Cy='#bfbf00', Ck='#000000';

const SERIF = '"Liberation Serif", "DejaVu Serif", serif';
const SANS = '"DejaVu Sans", sans-serif';
const ink = '#222';

function minus(v){ return String(v).replace('-', '\u2212'); }
const tick = {show:true, inside:true, length:4, lineStyle:{color:ink, width:1}};
const NAME_FS = 13.8;

function axesFor(gi, xr, yr, xName, yName, yGap, xFmt, yFmt){
  const xs = [
    {type:'value', gridIndex:gi, position:'bottom', min:xr[0], max:xr[1], interval:xr[2],
     name:xName, nameLocation:'middle', nameGap:18, nameMoveOverlap:false,
     nameTextStyle:{fontFamily:SERIF, fontSize:NAME_FS, color:'#333'},
     axisLine:{show:true, onZero:false, lineStyle:{color:ink, width:1}},
     axisTick:tick, splitLine:{show:false},
     axisLabel:{show:true, margin:4, fontFamily:SANS, fontSize:12.8, color:ink, formatter:xFmt, showMinLabel:true, showMaxLabel:true}},
    {type:'value', gridIndex:gi, position:'top', min:xr[0], max:xr[1], interval:xr[2],
     axisLine:{show:true, onZero:false, lineStyle:{color:'#555', width:1.5}},
     axisTick:tick, axisLabel:{show:false}, splitLine:{show:false}}
  ];
  const ys = [
    {type:'value', gridIndex:gi, position:'left', min:yr[0], max:yr[1], interval:yr[2],
     name:yName, nameLocation:'middle', nameGap:yGap, nameRotate:90, nameMoveOverlap:false,
     nameTextStyle:{fontFamily:SERIF, fontSize:NAME_FS, color:'#333'},
     axisLine:{show:true, onZero:false, lineStyle:{color:ink, width:1}},
     axisTick:tick, splitLine:{show:false},
     axisLabel:{show:true, margin:4, fontFamily:SANS, fontSize:12.8, color:ink, formatter:yFmt, showMinLabel:true, showMaxLabel:true}},
    {type:'value', gridIndex:gi, position:'right', min:yr[0], max:yr[1], interval:yr[2],
     axisLine:{show:true, onZero:false, lineStyle:{color:'#8a8a8a', width:2}},
     axisTick:tick, axisLabel:{show:false}, splitLine:{show:false}}
  ];
  return {xs, ys};
}

const aA = axesFor(0, [0,10000,2000], [-40,50,10], 'timestep, dt = 0.1', 'mean current (nA)', 36, minus, minus);
const aB = axesFor(1, [0,10000,2000], [-70,0,10], 'timestep, dt = 0.1', 'mean voltage (mV)', 36, minus, minus);
const aC = axesFor(2, [0,18,2], [0,0.7,0.1], 'Mitral Cell Firing Rate (Hz)', 'p(Rate)', 31, v=>String(v), v=>Number(v).toFixed(1));

function line(ys, color, gi){
  return {type:'line', xAxisIndex:gi*2, yAxisIndex:gi*2, data:T.map((t,i)=>[t, ys[i]]),
    symbol:'none', showSymbol:false, silent:true, animation:false, clip:true,
    lineStyle:{width:1.25, color:color}, itemStyle:{color:color}, z:2};
}

const seriesA = [
  [A_kw,Ck],[A_bw,Cb],[A_gw,Cg],[A_rw,Cr],[A_cw,Cc],[A_mm,Cm],[A_ym,Cy],[A_km,Ck],[A_bm,Cb],
  [A_b1,Cb],[A_g1,Cg],[A_g2,Cg],[A_r1,Cr],[A_b3,Cb],[A_c1,Cc],[A_m1,Cm],[A_k2,Ck],[A_y1,Cy],
  [A_m2,Cm],[A_k1,Ck],[A_y2,Cy],[A_b2,Cb],[A_r2,Cr],[A_r3,Cr],[A_c2,Cc]
].map(p=>line(p[0],p[1],0));
const seriesB = [
  [B_yw,Cy],[B_kw,Ck],[B_gw,Cg],[B_rw,Cr],[B_cm,Cc],[B_mm,Cm],[B_ym,Cy],[B_km,Ck],
  [B_b1,Cb],[B_g1,Cg],[B_r1,Cr],[B_c1,Cc],[B_m1,Cm],[B_y1,Cy],[B_k1,Ck],[B_r2,Cr],[B_c2,Cc],[B_bw,Cb]
].map(p=>line(p[0],p[1],1));

const histData = C_prob.map((p,i)=>[C_edges[i], C_edges[i+1], p]);
const seriesC = [{
  type:'custom', xAxisIndex:4, yAxisIndex:4, data:histData, silent:true, animation:false,
  encode:{x:[0,1], y:2},
  renderItem:function(params, api){
    const h = api.value(2);
    if (!(h > 0)) return null;
    const p0 = api.coord([api.value(0), h]);
    const p1 = api.coord([api.value(1), 0]);
    return {type:'rect', shape:{x:p0[0], y:p0[1], width:p1[0]-p0[0], height:p1[1]-p0[1]},
      style:{fill:'#000', stroke:'#777', lineWidth:0.6}};
  }
}];

function txt(s, x, y, size, align){
  return {type:'text', x:x, y:y, silent:true, z:10,
    style:{text:s, font:size+'px '+SERIF, fill:'#333', align:align||'center', verticalAlign:'middle'}};
}

const option = {
  animation:false,
  backgroundColor:'#fff',
  grid:[
    {left:90, right:21, top:41, height:357, containLabel:false},
    {left:90, right:21, top:487, height:357, containLabel:false},
    {left:90, right:21, top:933, height:358, containLabel:false}
  ],
  xAxis:[...aA.xs, ...aB.xs, ...aC.xs],
  yAxis:[...aA.ys, ...aB.ys, ...aC.ys],
  series:[...seriesA, ...seriesB, ...seriesC],
  graphic:[
    txt('A', 11, 17, 32, 'left'),
    txt('B', 11, 463, 32, 'left'),
    txt('C', 11, 909, 32, 'left'),
    txt('Average Mitral Cell Current', 332, 25.5, 16.8),
    txt('Average Mitral Cell Voltage', 332, 471.5, 16.8),
    txt('Histogram of Mitral Cell Firing Rates', 332, 917, 16.8)
  ]
};
const chart = echarts.init(document.getElementById('c'), null, {renderer:'canvas', width:595, height:1329});
chart.setOption(option);
</script></body></html>
